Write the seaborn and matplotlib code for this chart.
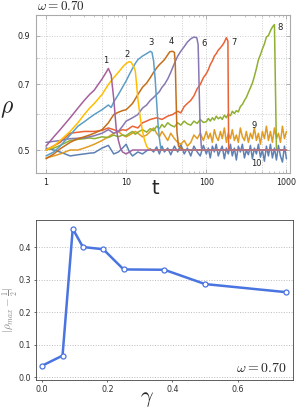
import matplotlib
matplotlib.use("Agg")
import matplotlib.pyplot as plt
import seaborn as sns
from matplotlib.ticker import FixedLocator, NullFormatter

sns.set_theme(style="ticks")
plt.rcParams['font.family'] = ['DejaVu Sans']
plt.rcParams['mathtext.fontset'] = 'cm'

# ---- top panel: rho(t) for several runs, omega = 0.70 ----
t_grid = [1, 1.25, 1.5, 2, 2.5, 3, 3.5, 4, 5, 6,
          7, 8, 9, 10, 11, 12, 13, 14, 16, 18,
          20, 22, 24, 26, 28, 30, 33, 36, 40, 44,
          48, 53, 58, 64, 70, 77, 84, 92, 100, 106,
          112, 119, 126, 133, 141, 150, 158, 168, 178, 188,
          200, 211, 224, 237, 251, 266, 282, 299, 316, 335,
          355, 376, 398, 422, 447, 473, 501, 531, 562, 596,
          631, 668, 708, 750, 794, 841, 891, 944, 1000]

rho10 = [0.505, 0.50, 0.495, 0.485, 0.488, 0.49, 0.492, 0.493, 0.505, 0.512,
         0.49, 0.495, 0.505, 0.515, 0.495, 0.485, 0.49, 0.495, 0.49, 0.498,
         0.503, 0.495, 0.508, 0.49, 0.51, 0.495, 0.505, 0.488, 0.51, 0.495,
         0.515, 0.49, 0.505, 0.485, 0.51, 0.495, 0.485, 0.512, 0.49, 0.505,
         0.48, 0.51, 0.495, 0.515, 0.485, 0.50, 0.51, 0.478, 0.505, 0.49,
         0.515, 0.485, 0.505, 0.475, 0.51, 0.495, 0.515, 0.48, 0.50, 0.488,
         0.512, 0.478, 0.505, 0.49, 0.515, 0.482, 0.50, 0.472, 0.51, 0.485,
         0.515, 0.48, 0.505, 0.475, 0.512, 0.485, 0.47, 0.51, 0.478]

rho9 = [0.48, 0.485, 0.49, 0.50, 0.50, 0.505, 0.51, 0.515, 0.525, 0.535,
        0.545, 0.55, 0.54, 0.535, 0.54, 0.545, 0.55, 0.545, 0.535, 0.54,
        0.55, 0.56, 0.545, 0.535, 0.55, 0.54, 0.525, 0.545, 0.53, 0.52,
        0.515, 0.525, 0.51, 0.52, 0.54, 0.53, 0.545, 0.525, 0.55, 0.53,
        0.545, 0.52, 0.555, 0.535, 0.525, 0.55, 0.53, 0.56, 0.52, 0.545,
        0.53, 0.555, 0.525, 0.54, 0.52, 0.56, 0.535, 0.525, 0.55, 0.52,
        0.545, 0.53, 0.56, 0.525, 0.545, 0.515, 0.55, 0.53, 0.565, 0.525,
        0.55, 0.52, 0.56, 0.53, 0.545, 0.52, 0.565, 0.53, 0.55]

rho8 = [0.50, 0.505, 0.512, 0.525, 0.528, 0.53, 0.532, 0.53, 0.535, 0.533,
        0.54, 0.535, 0.54, 0.538, 0.545, 0.55, 0.542, 0.548, 0.555, 0.548,
        0.558, 0.552, 0.565, 0.558, 0.57, 0.562, 0.575, 0.568, 0.563, 0.575,
        0.568, 0.58, 0.572, 0.568, 0.58, 0.573, 0.585, 0.576, 0.578, 0.588,
        0.58, 0.59, 0.583, 0.595, 0.587, 0.592, 0.585, 0.598, 0.59, 0.602,
        0.596, 0.61, 0.603, 0.612, 0.608, 0.625, 0.632, 0.645, 0.655, 0.672,
        0.688, 0.705, 0.73, 0.76, 0.795, 0.815, 0.84, 0.862, 0.893, 0.90,
        0.922, 0.94, 0.952, 0.50, 0.50, 0.50, 0.50, 0.50, 0.50]

t7 = [1, 1.5, 2, 3, 4, 5, 6, 7, 8, 9, 10, 12, 14, 16, 18, 20, 24, 28, 33, 38,
      44, 48, 53, 58, 64, 70, 77, 84, 92, 100, 106, 112, 119, 126, 133, 141,
      150, 158, 168, 178, 186, 190, 1000]
rho7 = [0.50, 0.52, 0.545, 0.55, 0.55, 0.553, 0.56, 0.555, 0.55, 0.555, 0.553,
        0.565, 0.56, 0.575, 0.58, 0.585, 0.59, 0.585, 0.595, 0.60,
        0.61, 0.605, 0.625, 0.635, 0.645, 0.66, 0.685, 0.70, 0.725, 0.74,
        0.755, 0.775, 0.79, 0.81, 0.82, 0.835, 0.845, 0.855, 0.87, 0.89,
        0.875, 0.50, 0.50]

t6 = [1, 1.5, 2, 3, 4, 5, 6, 7, 8, 9, 10, 11, 12, 13, 14, 16, 18, 20, 22, 24,
      26, 28, 30, 33, 36, 40, 44, 48, 53, 58, 64, 70, 76, 79, 80, 82, 84, 87,
      92, 1000]
rho6 = [0.52, 0.525, 0.53, 0.532, 0.538, 0.545, 0.555, 0.545, 0.55, 0.565,
        0.58, 0.585, 0.59, 0.595, 0.60, 0.62, 0.63, 0.645, 0.655, 0.665,
        0.675, 0.69, 0.70, 0.72, 0.745, 0.78, 0.81, 0.83, 0.85, 0.87,
        0.885, 0.893, 0.89, 0.86, 0.79, 0.65, 0.55, 0.505, 0.50, 0.50]

t4 = [1, 1.25, 1.5, 2, 2.5, 3, 3.5, 4, 5, 6, 7, 8, 9, 10, 11, 12, 13, 14, 16,
      18, 20, 22, 24, 26, 28, 30, 33, 35, 38, 40, 41, 42, 43, 45, 48, 53, 1000]
rho4 = [0.478, 0.49, 0.503, 0.52, 0.53, 0.535, 0.54, 0.545, 0.555, 0.575,
        0.60, 0.607, 0.612, 0.615, 0.625, 0.635, 0.65, 0.665, 0.69,
        0.705, 0.725, 0.745, 0.762, 0.775, 0.785, 0.795, 0.815, 0.828, 0.83,
        0.825, 0.78, 0.65, 0.55, 0.51, 0.505, 0.50, 0.50]

t3 = [1, 1.25, 1.5, 2, 2.5, 3, 3.5, 4, 5, 6, 6.5, 7, 8, 9, 10, 11, 12, 13, 14,
      16, 18, 20, 21, 22, 23, 24, 25, 26, 27, 28, 1000]
rho3 = [0.485, 0.495, 0.51, 0.54, 0.565, 0.578, 0.59, 0.60, 0.615, 0.63,
        0.622, 0.64, 0.665, 0.69, 0.713, 0.738, 0.76, 0.78, 0.795,
        0.81, 0.82, 0.83, 0.825, 0.79, 0.72, 0.64, 0.57, 0.53, 0.505, 0.50, 0.50]

t2 = [1, 1.25, 1.5, 2, 2.5, 3, 3.5, 4, 5, 6, 7, 8, 9, 10, 11, 11.5, 12, 12.5,
      13, 13.5, 14, 15, 16, 17, 18, 19, 20, 1000]
rho2 = [0.50, 0.51, 0.525, 0.55, 0.575, 0.60, 0.62, 0.635, 0.665, 0.70,
        0.725, 0.745, 0.765, 0.78, 0.787, 0.785, 0.775, 0.765,
        0.75, 0.70, 0.65, 0.59, 0.55, 0.525, 0.51, 0.503, 0.50, 0.50]

t1 = [1, 1.25, 1.5, 2, 2.5, 3, 3.5, 4, 5, 5.5, 6, 6.5, 7, 7.5, 8, 8.5, 9, 10,
      11, 12, 1000]
rho1 = [0.51, 0.535, 0.555, 0.59, 0.62, 0.645, 0.665, 0.68, 0.72, 0.74, 0.76,
        0.735, 0.65, 0.56, 0.525, 0.505, 0.495, 0.49, 0.495, 0.50, 0.50]

run_labels = ["10", "9", "8", "7", "6", "4", "3", "2", "1"]
run_colors = ["#5E81B5", "#E19C24", "#8FB032", "#EB6235", "#8778B3",
              "#C56E1A", "#5D9EC7", "#FFBF00", "#A5609D"]
run_t = [t_grid, t_grid, t_grid, t7, t6, t4, t3, t2, t1]
run_rho = [rho10, rho9, rho8, rho7, rho6, rho4, rho3, rho2, rho1]
# where each run's number is written
label_t = [424, 392, 827, 222, 94, 37, 20.4, 10.2, 5.6]
label_rho = [0.467, 0.566, 0.94, 0.87, 0.865, 0.872, 0.868, 0.818, 0.79]

# ---- bottom panel: max deviation vs gamma ----
gamma = [0.0, 0.0625, 0.09375, 0.125, 0.1875, 0.25, 0.375, 0.5, 0.75]
dev = [0.036, 0.067, 0.457, 0.401, 0.394, 0.332, 0.331, 0.287, 0.262]

fig = plt.figure(figsize=(3.0, 4.12), dpi=100)

# top
ax = fig.add_axes([0.12, 0.5808, 0.848, 0.3828])
for lab, col, tt, rr in zip(run_labels, run_colors, run_t, run_rho):
    sns.lineplot(x=tt, y=rr, ax=ax, color=col, lw=1.1, estimator=None,
                 sort=False, legend=False)
for lab, lt, lr in zip(run_labels[::-1], label_t[::-1], label_rho[::-1]):
    ax.text(lt, lr, lab, fontsize=6, color="#222222", ha="center", va="center")

ax.set_xscale("log")
ax.set_yscale("log")
ax.set_xlim(0.75, 1120)
ax.set_ylim(0.445, 1.0)
ax.xaxis.set_major_locator(FixedLocator([1, 10, 100, 1000]))
ax.set_xticklabels(["1", "10", "100", "1000"])
ax.xaxis.set_minor_locator(FixedLocator([m * d for d in (1, 10, 100) for m in range(2, 10)]))
ax.xaxis.set_minor_formatter(NullFormatter())
ax.yaxis.set_major_locator(FixedLocator([0.5, 0.7, 0.9]))
ax.set_yticklabels(["0.5", "0.7", "0.9"])
ax.yaxis.set_minor_locator(FixedLocator([0.6, 0.8]))
ax.yaxis.set_minor_formatter(NullFormatter())
ax.grid(True, which="both", axis="y", color="#cccccc", ls=":", lw=0.7)
for gx in [1, 5, 10, 50, 100, 500, 1000]:
    ax.axvline(gx, color="#cccccc", ls=":", lw=0.7, zorder=0)
ax.tick_params(which="both", direction="in", top=True, right=True,
               labelsize=5.8, colors="#999999", labelcolor="#222222", pad=4)
ax.tick_params(which="major", length=3, width=0.5)
ax.tick_params(which="minor", length=1.5, width=0.4)
for s in ax.spines.values():
    s.set_color("#aaaaaa")
    s.set_linewidth(0.8)
ax.set_xlabel("t", fontsize=14, va="center")
ax.xaxis.set_label_coords(0.468, -0.097)
ax.set_ylabel(r"$\rho$", fontsize=17, rotation=0, va="center")
ax.yaxis.set_label_coords(-0.115, 0.41)
fig.text(0.122, 1 - 6 / 412, r"$\omega = 0.70$", fontsize=9.5, va="center", ha="left")

# bottom
ax2 = fig.add_axes([0.12, 0.0777, 0.8577, 0.3883])
sns.lineplot(x=gamma, y=dev, ax=ax2, color="#4a74e0", lw=1.8, marker="o",
             markersize=3.6, markerfacecolor="white", markeredgecolor="#4a74e0",
             markeredgewidth=0.9, estimator=None, sort=False, legend=False)
ax2.set_xlim(-0.019, 0.771)
ax2.set_ylim(-0.008, 0.484)
ax2.set_xticks([0.0, 0.2, 0.4, 0.6])
ax2.set_yticks([0.0, 0.1, 0.2, 0.3, 0.4])
ax2.grid(True, axis="y", color="#bbbbbb", ls=":", lw=0.7)
ax2.tick_params(labelsize=5.8, length=1.5, width=0.5, pad=2, colors="#333333")
for s in ax2.spines.values():
    s.set_color("#444444")
    s.set_linewidth(0.6)
ax2.set_xlabel(r"$\gamma$", fontsize=16, va="center")
ax2.xaxis.set_label_coords(0.43, -0.12)
ax2.set_ylabel(r"$|\rho_{max}-\frac{1}{2}|$", fontsize=8, color="#888888",
               va="center")
ax2.yaxis.set_label_coords(-0.1, 0.44)
ax2.text(0.975, 0.075, r"$\omega = 0.70$", transform=ax2.transAxes,
         fontsize=10, ha="right", va="center")

fig.savefig("out.png", dpi=100)
